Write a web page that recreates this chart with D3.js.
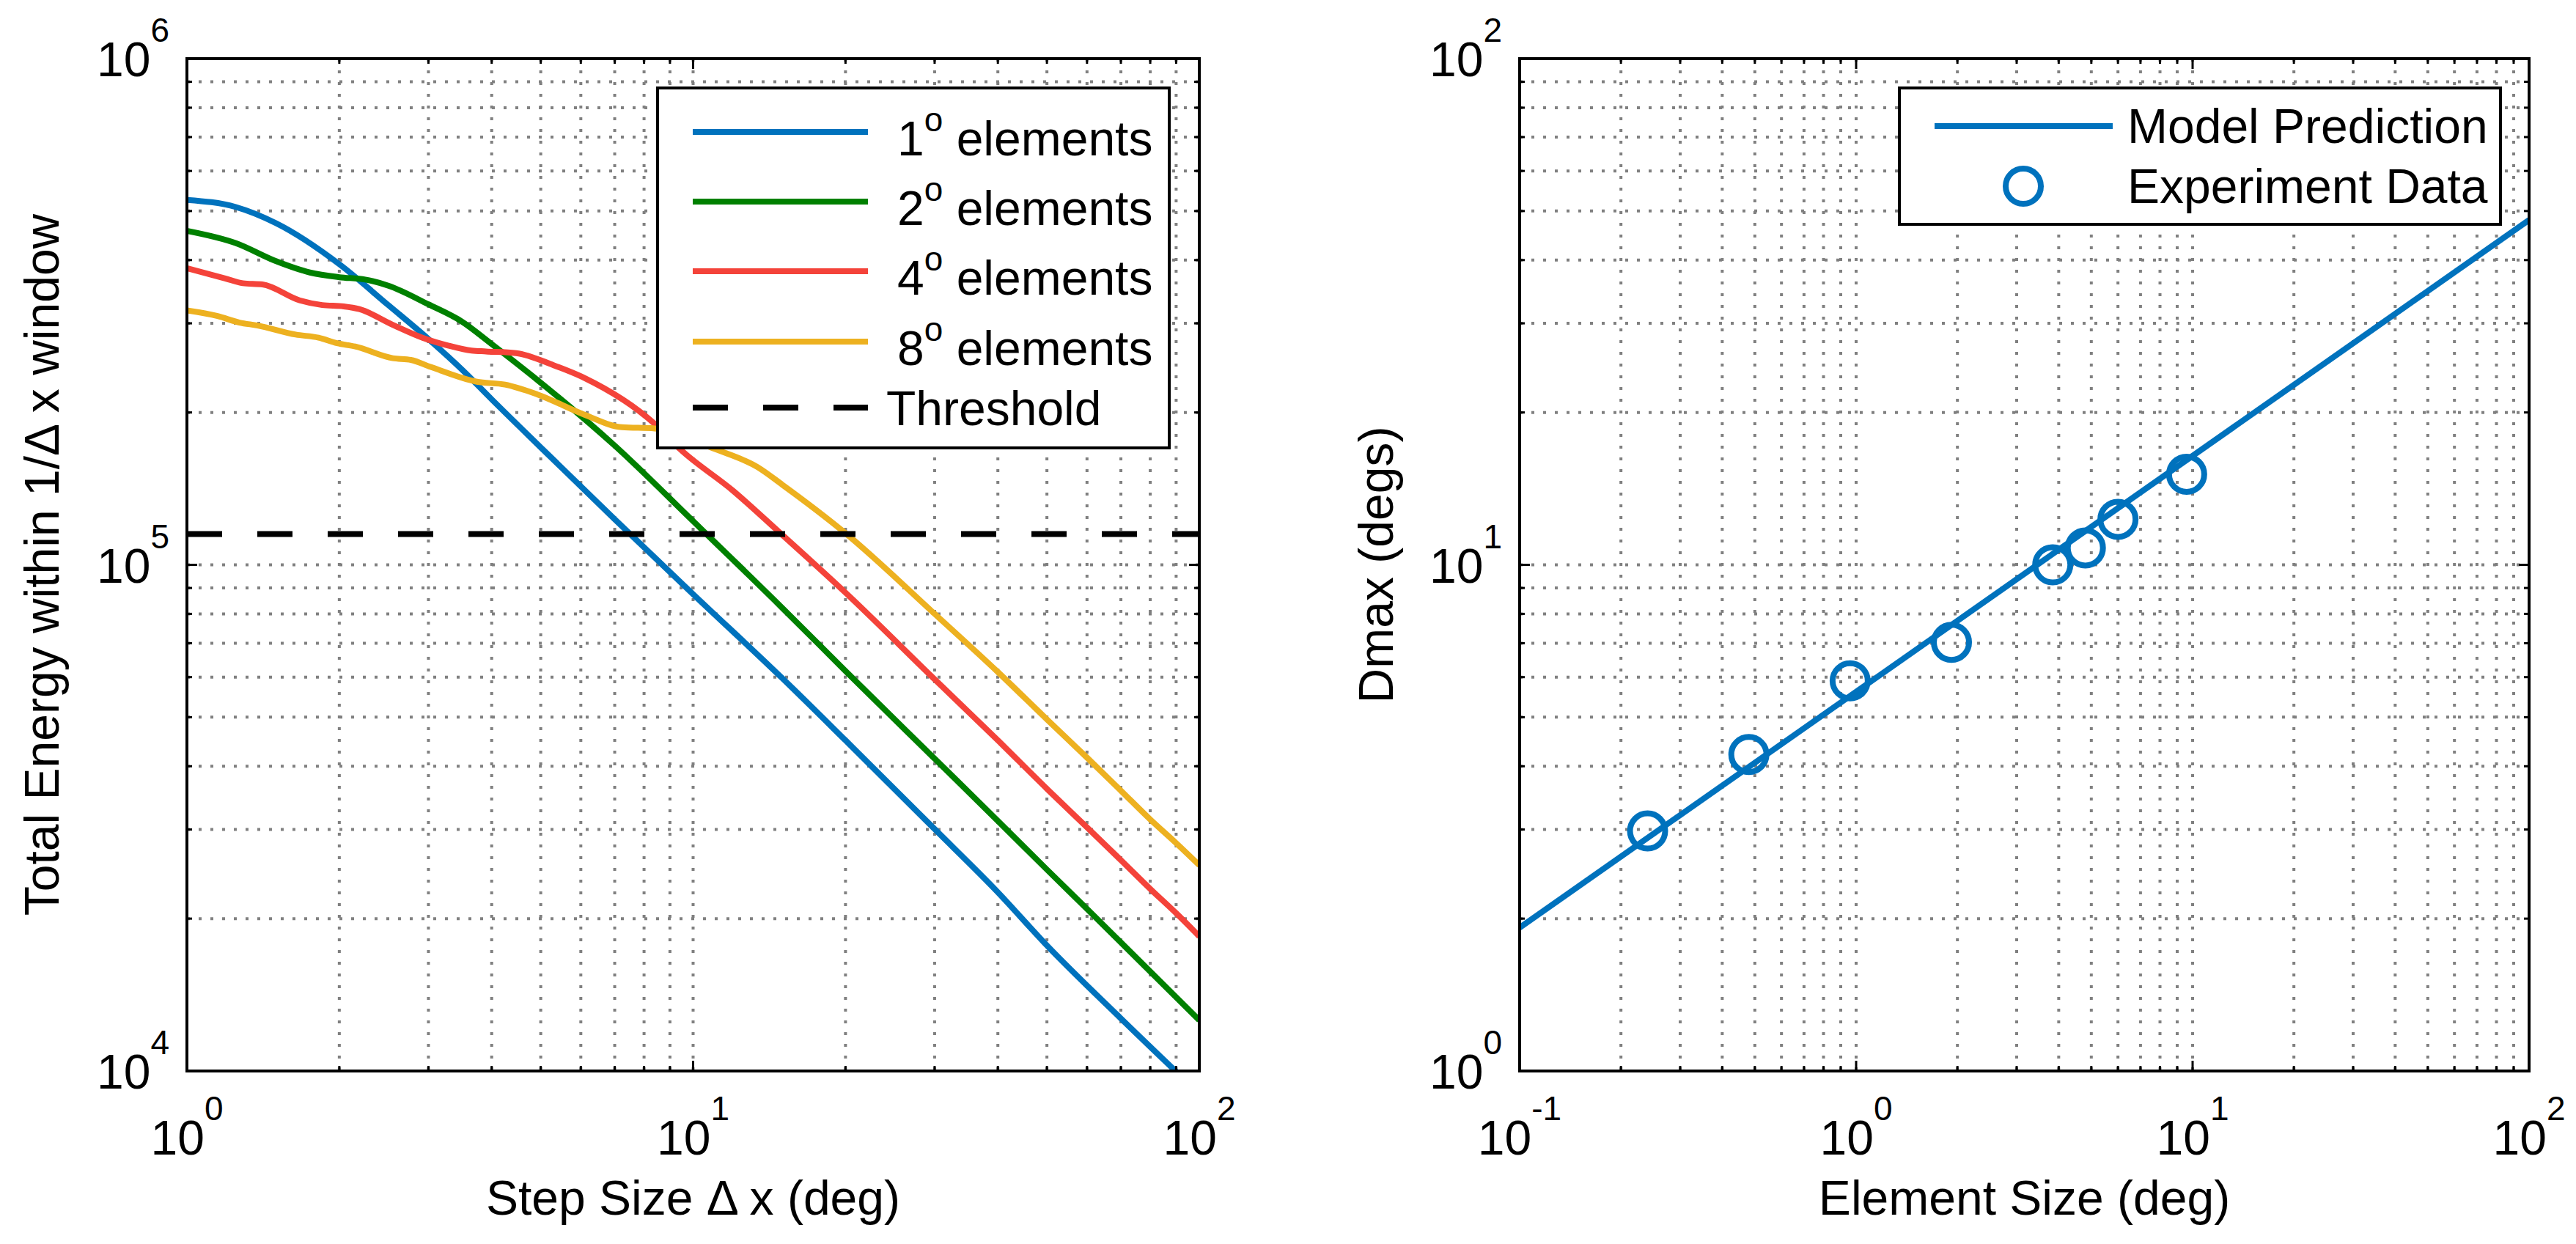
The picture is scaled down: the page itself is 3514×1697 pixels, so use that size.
<!DOCTYPE html>
<html><head><meta charset="utf-8">
<script src="https://cdn.jsdelivr.net/npm/d3@7"></script>
<style>
body{margin:0;background:#fff}
svg{display:block}
text{font-family:"Liberation Sans", Arial, Helvetica, sans-serif;fill:#000}
</style>
</head><body>
<svg id="c" width="3514" height="1697"></svg>
<script>
// ---------------- DATA ----------------
// Left panel: total energy vs step size (log-log)
const legendLabelsLeft = ["1", "2", "4", "8"];   // element size in degrees
const thresholdLabel = "Threshold";
const thresholdValue = 115000;

const e1X = [1, 1.25, 1.5, 2, 2.5, 3, 3.5, 4, 5, 7, 10, 15, 20, 30, 40, 50, 70, 100];
const e1Y = [526000, 509000, 473000, 392600, 325800, 279300, 242700, 212300, 170600, 123000, 87500, 59700, 45000, 30060, 22550, 17700, 12700, 9020];

const e2X = [1, 1.25, 1.5, 1.75, 2, 2.25, 2.5, 3, 3.5, 4, 5, 7, 10, 15, 20, 30, 40, 50, 60, 70, 100];
const e2Y = [457000, 432000, 398000, 378000, 370000, 366000, 356000, 327000, 302000, 273000, 229000, 172000, 122000, 82200, 61700, 41400, 31200, 25000, 20900, 17950, 12600];

const e4X = [1, 1.19, 1.29, 1.41, 1.67, 1.85, 2.04, 2.19, 2.55, 2.92, 3.29, 3.65, 3.9, 4.47, 5.3, 6.1, 8.39, 9.44, 12, 14.8, 20.1, 30, 40, 50, 60, 70, 80, 90, 100];
const e4Y = [385500, 368000, 360000, 358000, 333000, 326000, 324000, 320000, 298000, 281000, 271000, 265000, 264000, 262000, 248000, 234000, 190000, 169000, 140000, 116000, 87700, 59400, 45000, 36100, 30300, 26100, 22900, 20500, 18450];

const e8X = [1, 1.15, 1.27, 1.38, 1.64, 1.82, 1.98, 2.15, 2.55, 2.77, 3.03, 3.74, 4.25, 4.93, 6.1, 7.23, 8.39, 11.1, 13.4, 15, 20.1, 30, 40, 50, 60, 70, 80, 90, 100];
const e8Y = [318000, 310000, 301000, 297000, 285000, 281000, 274000, 270000, 256000, 254000, 246000, 230000, 227000, 217000, 198000, 187000, 186000, 169000, 156000, 144000, 115000, 80000, 61400, 49500, 41600, 35800, 31400, 28200, 25500];

const leftXTickExp = [0, 1, 2];
const leftYTickExp = [4, 5, 6];

// Right panel: Dmax vs element size (log-log)
const modelX = [0.1, 100];
const modelY = [1.92, 48];
const expX = [0.24, 0.48, 0.96, 1.92, 3.84, 4.8, 6.0, 9.6];
const expY = [2.98, 4.22, 5.9, 7.03, 10.0, 10.8, 12.3, 15.1];
const rightXTickExp = [-1, 0, 1, 2];
const rightYTickExp = [0, 1, 2];

// ---------------- DRAWING ----------------
const svg = d3.select("#c");
const FONT = 66, EXP = 46;
const COLORS = ["#0072BD", "#008000", "#F4433A", "#EDB120"];
const GRID = "#808080";

function panel(o) {
  const x = d3.scaleLog().domain(o.xd).range([o.left, o.right]);
  const y = d3.scaleLog().domain(o.yd).range([o.bottom, o.top]);
  const g = svg.append("g");
  const isMajor = v => Math.abs(Math.log10(v) - Math.round(Math.log10(v))) < 1e-9;
  const xt = x.ticks().filter(v => v > o.xd[0] * 1.0001 && v < o.xd[1] * 0.9999);
  const yt = y.ticks().filter(v => v > o.yd[0] * 1.0001 && v < o.yd[1] * 0.9999);

  // grid
  const grid = g.append("g").attr("stroke", GRID).attr("stroke-width", 4).attr("stroke-dasharray", "4,12");
  grid.selectAll(".gx").data(xt).join("line")
    .attr("x1", d => x(d)).attr("x2", d => x(d)).attr("y1", o.top).attr("y2", o.bottom);
  grid.selectAll(".gy").data(yt).join("line")
    .attr("y1", d => y(d)).attr("y2", d => y(d)).attr("x1", o.left).attr("x2", o.right);

  // clip
  const cid = "clip" + Math.round(o.left);
  svg.append("defs").append("clipPath").attr("id", cid).append("rect")
    .attr("x", o.left).attr("y", o.top).attr("width", o.right - o.left).attr("height", o.bottom - o.top);
  const plot = g.append("g").attr("clip-path", `url(#${cid})`);

  // ticks (inward, all sides)
  const tk = g.append("g").attr("stroke", "#000").attr("stroke-width", 3);
  xt.forEach(v => {
    const L = isMajor(v) ? 14 : 7;
    tk.append("line").attr("x1", x(v)).attr("x2", x(v)).attr("y1", o.bottom).attr("y2", o.bottom - L);
    tk.append("line").attr("x1", x(v)).attr("x2", x(v)).attr("y1", o.top).attr("y2", o.top + L);
  });
  yt.forEach(v => {
    const L = isMajor(v) ? 14 : 7;
    tk.append("line").attr("y1", y(v)).attr("y2", y(v)).attr("x1", o.left).attr("x2", o.left + L);
    tk.append("line").attr("y1", y(v)).attr("y2", y(v)).attr("x1", o.right).attr("x2", o.right - L);
  });

  // tick labels
  o.xExp.forEach(e => {
    const t = g.append("text").attr("x", x(Math.pow(10, e))).attr("y", o.bottom + 114)
      .attr("text-anchor", "middle").attr("font-size", FONT);
    t.append("tspan").text("10");
    t.append("tspan").attr("font-size", EXP).attr("dy", -47).text(e);
  });
  o.yExp.forEach(e => {
    const t = g.append("text").attr("x", o.left - 24).attr("y", y(Math.pow(10, e)) + 24)
      .attr("text-anchor", "end").attr("font-size", FONT);
    t.append("tspan").text("10");
    t.append("tspan").attr("font-size", EXP).attr("dy", -47).text(e);
  });

  // axis labels
  g.append("text").attr("x", (o.left + o.right) / 2).attr("y", o.bottom + 196)
    .attr("text-anchor", "middle").attr("font-size", FONT).text(o.xlabel);
  g.append("text").attr("transform", `translate(${o.ylabelX},${(o.top + o.bottom) / 2}) rotate(-90)`)
    .attr("text-anchor", "middle").attr("font-size", FONT).text(o.ylabel);

  return {x, y, g, plot, box: () => g.append("rect").attr("x", o.left).attr("y", o.top)
    .attr("width", o.right - o.left).attr("height", o.bottom - o.top)
    .attr("fill", "none").attr("stroke", "#000").attr("stroke-width", 4)};
}

// ----- Left panel -----
const L = panel({left: 255, right: 1636, top: 80, bottom: 1461, xd: [1, 100], yd: [1e4, 1e6],
  xExp: leftXTickExp, yExp: leftYTickExp, xlabel: "Step Size \u0394 x (deg)",
  ylabel: "Total Energy within 1/\u0394 x window", ylabelX: 80});

const seriesL = [[e1X, e1Y], [e2X, e2Y], [e4X, e4Y], [e8X, e8Y]];
const lineL = d3.line().x(d => L.x(d[0])).y(d => L.y(d[1])).curve(d3.curveMonotoneX);
seriesL.forEach((s, i) => {
  const pts = s[0].map((v, j) => [v, s[1][j]]);
  L.plot.append("path").attr("d", lineL(pts)).attr("fill", "none")
    .attr("stroke", COLORS[i]).attr("stroke-width", 8).attr("stroke-linejoin", "round");
});
L.plot.append("path").attr("d", lineL([[1, thresholdValue], [100, thresholdValue]]))
  .attr("fill", "none").attr("stroke", "#000").attr("stroke-width", 8).attr("stroke-dasharray", "48,48");
L.box();

// legend left
const lgL = svg.append("g");
lgL.append("rect").attr("x", 897).attr("y", 120).attr("width", 698).attr("height", 491)
  .attr("fill", "#fff").attr("stroke", "#000").attr("stroke-width", 4);
const rowY = [180, 275, 370, 466, 556];
legendLabelsLeft.forEach((lab, i) => {
  lgL.append("line").attr("x1", 945).attr("x2", 1184).attr("y1", rowY[i]).attr("y2", rowY[i])
    .attr("stroke", COLORS[i]).attr("stroke-width", 8);
  const t = lgL.append("text").attr("x", 1224).attr("y", rowY[i] + 32).attr("font-size", FONT);
  t.append("tspan").text(lab);
  t.append("tspan").attr("font-size", EXP).attr("dy", -33).text("o");
  t.append("tspan").attr("dy", 33).text(" elements");
});
lgL.append("line").attr("x1", 945).attr("x2", 1184).attr("y1", rowY[4]).attr("y2", rowY[4])
  .attr("stroke", "#000").attr("stroke-width", 8).attr("stroke-dasharray", "48,48");
lgL.append("text").attr("x", 1209).attr("y", rowY[4] + 24).attr("font-size", FONT).text(thresholdLabel);

// ----- Right panel -----
const R = panel({left: 2073, right: 3450, top: 80, bottom: 1461, xd: [0.1, 100], yd: [1, 100],
  xExp: rightXTickExp, yExp: rightYTickExp, xlabel: "Element Size (deg)",
  ylabel: "Dmax (degs)", ylabelX: 1900});

const lineR = d3.line().x(d => R.x(d[0])).y(d => R.y(d[1]));
R.plot.append("path").attr("d", lineR(modelX.map((v, j) => [v, modelY[j]])))
  .attr("fill", "none").attr("stroke", COLORS[0]).attr("stroke-width", 8);
R.plot.selectAll(".pt").data(expX.map((v, j) => [v, expY[j]])).join("circle")
  .attr("cx", d => R.x(d[0])).attr("cy", d => R.y(d[1])).attr("r", 24)
  .attr("fill", "none").attr("stroke", COLORS[0]).attr("stroke-width", 8);
R.box();

// legend right
const lgR = svg.append("g");
lgR.append("rect").attr("x", 2591).attr("y", 120).attr("width", 820).attr("height", 186)
  .attr("fill", "#fff").attr("stroke", "#000").attr("stroke-width", 4);
lgR.append("line").attr("x1", 2639).attr("x2", 2882).attr("y1", 172).attr("y2", 172)
  .attr("stroke", COLORS[0]).attr("stroke-width", 8);
lgR.append("circle").attr("cx", 2760).attr("cy", 254).attr("r", 24)
  .attr("fill", "none").attr("stroke", COLORS[0]).attr("stroke-width", 8);
lgR.append("text").attr("x", 2902).attr("y", 195).attr("font-size", FONT).text("Model Prediction");
lgR.append("text").attr("x", 2902).attr("y", 277).attr("font-size", FONT).text("Experiment Data");
</script>
</body></html>
